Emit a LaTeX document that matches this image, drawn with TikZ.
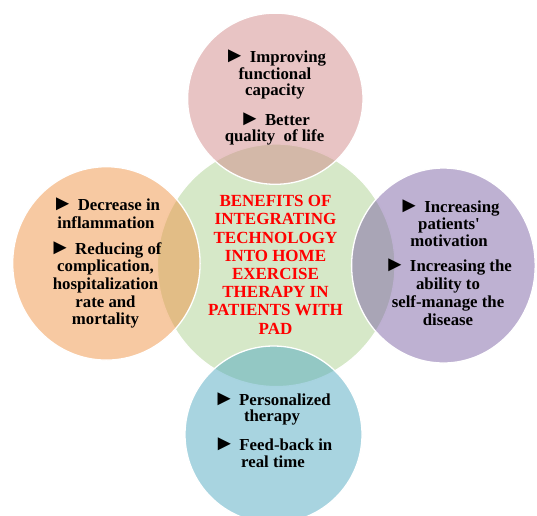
\documentclass[tikz,border=0pt]{standalone}
\usepackage{fontspec}
\usepackage{graphicx}
\setmainfont{Liberation Serif}[Ligatures=TeXOff]
% enlarged pointer glyph used before each item
\newcommand\bulletmark{\scalebox{1.3}{►}}
\begin{document}
\definecolor{hubgreen}{RGB}{214,232,200}
\definecolor{petalpink}{RGB}{209,137,137}
\definecolor{petalorange}{RGB}{239,147,69}
\definecolor{petalpurple}{RGB}{125,99,165}
\definecolor{petalblue}{RGB}{81,169,193}
\begin{tikzpicture}[x=1pt,y=-1pt,
  hub/.style={fill=hubgreen,draw=white,line width=1.3pt},
  petal/.style={fill=#1,fill opacity=0.5,draw=white,draw opacity=1,line width=1.3pt},
  % multi-line nodes: the base anchor sits on the last line's baseline
  bullets/.style={align=center,anchor=base,inner sep=0pt,text=black,
    font=\bfseries\fontsize{16.8}{#1}\selectfont},
  title/.style={align=center,anchor=base,inner sep=0pt,text=red,
    font=\bfseries\fontsize{17}{18.2}\selectfont}]
\useasboundingbox (0,0) rectangle (537,515);
\clip (0,0) rectangle (537,515);

% central circle
\path[hub] (276.2,265.3) ellipse [x radius=118.8,y radius=121.3];

% surrounding translucent circles
\path[petal=petalpink]   (275.3,98.7)  ellipse [x radius=87.7,y radius=85.6];
\path[petal=petalorange] (106.4,263.4) ellipse [x radius=93.7,y radius=96.7];
\path[petal=petalpurple] (443.4,265.5) ellipse [x radius=91.8,y radius=97.5];
\path[petal=petalblue]   (273.5,434.5) ellipse [x radius=88.5,y radius=88.5];

% centre title
\node[title] (hubtext) at (275.5,334.1)
  {BENEFITS OF\\INTEGRATING\\TECHNOLOGY\\INTO HOME\\EXERCISE\\THERAPY IN\\PATIENTS WITH\\PAD};

% top circle
\node[bullets=16.4] (top1) at (275,95.5) {\bulletmark{} Improving\\functional\\capacity};
\node[bullets=16.7] (top2) at (274.5,141.7) {\bulletmark{} Better\\quality\ \ of life};

% left circle
\node[bullets=17.4] (left1) at (106,228.1) {\bulletmark{} Decrease in\\inflammation};
\node[bullets=17.7] (left2) at (105.5,324.8) {\bulletmark{} Reducing of\\complication,\\hospitalization\\rate and\\mortality};

% right circle
\node[bullets=17] (right1) at (449,246.7) {\bulletmark{} Increasing\\patients'\\motivation};
\node[bullets=17.8] (right2) at (448,325.1) {\bulletmark{} Increasing the\\ability to\\self-manage the\\disease};

% bottom circle
\node[bullets=16.2] (bot1) at (272,421.9) {\bulletmark{} Personalized\\therapy};
\node[bullets=17] (bot2) at (273,467) {\bulletmark{} Feed-back in\\real time};
\end{tikzpicture}
\end{document}
